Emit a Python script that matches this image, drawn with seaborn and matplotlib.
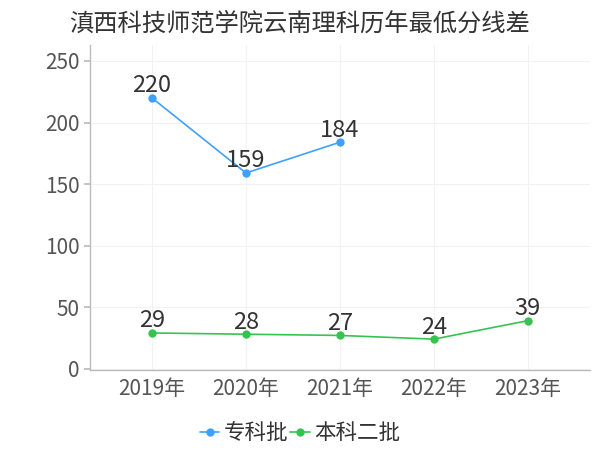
import numpy as np
import pandas as pd
import matplotlib
matplotlib.use("Agg")
import matplotlib.pyplot as plt
import seaborn as sns

years = ["2019年", "2020年", "2021年", "2022年", "2023年"]
zhuanke = [220, 159, 184, np.nan, np.nan]
benke2 = [29, 28, 27, 24, 39]
series_names = ["专科批", "本科二批"]
colors = ["#3fa0ff", "#36c450"]

sns.set_theme(style="white")
plt.rcParams['font.family'] = ['Noto Sans CJK SC', 'DejaVu Sans']

df = pd.DataFrame({
    "year": years * 2,
    "score": zhuanke + benke2,
    "batch": [series_names[0]] * len(years) + [series_names[1]] * len(years),
})

fig = plt.figure(figsize=(6, 4.5), dpi=100)
ax = fig.add_axes([0.15, 0.178, 0.833, 0.722])

sns.lineplot(data=df, x="year", y="score", hue="batch", palette=colors,
             marker="o", markersize=6, markeredgewidth=0, linewidth=1.2,
             ax=ax, sort=False)

# labels above points
for vals in [zhuanke, benke2]:
    for i, v in enumerate(vals):
        if not np.isnan(v):
            ax.text(i, v + 0.5, str(int(v)), ha="center", va="bottom",
                    fontsize=17, color="#333333")

ax.set_xlim(-0.66, 4.66)
ax.set_ylim(-1, 263)
ax.set_yticks([0, 50, 100, 150, 200, 250])
ax.set_xlabel("")
ax.set_ylabel("")
ax.grid(True, color="#f2f2f2", linewidth=0.8)
for s in ["top", "right"]:
    ax.spines[s].set_visible(False)
for s in ["left", "bottom"]:
    ax.spines[s].set_color("#bbbbbb")
    ax.spines[s].set_linewidth(1)
ax.tick_params(axis="y", length=4, color="#bbbbbb", labelsize=15, labelcolor="#555555", left=True)
ax.tick_params(axis="x", length=0, labelsize=15, labelcolor="#555555", pad=6)

ax.set_title("滇西科技师范学院云南理科历年最低分线差", fontsize=17.5, color="#333333",
             x=0.42, y=1.02)

leg = ax.legend(loc="upper center", bbox_to_anchor=(0.42, -0.135), ncol=2,
                frameon=False, fontsize=15.5, handlelength=0.9, handletextpad=0.2,
                columnspacing=0.1, borderaxespad=0)
for t in leg.get_texts():
    t.set_color("#333333")

fig.savefig("out.png", dpi=100)
